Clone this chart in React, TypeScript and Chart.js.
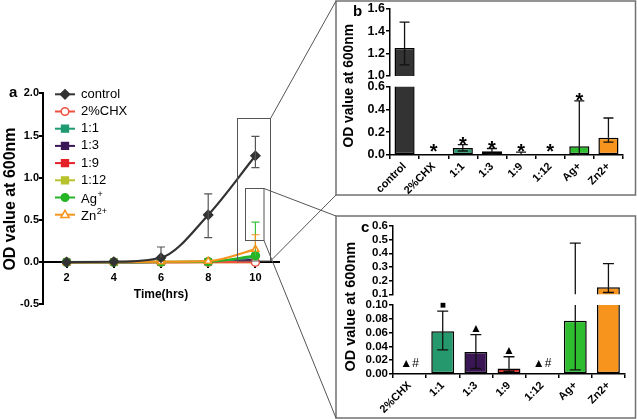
import { useEffect, useRef } from 'react';
import { Chart, registerables } from 'chart.js';

Chart.register(...registerables);

const FONT = "'Liberation Sans', Arial, 'DejaVu Sans', sans-serif";

// ---------- Panel a : OD over time ----------
const hours = [2, 4, 6, 8, 10];
const timeTicks = [2, 4, 6, 8, 10];
const odTicksA = [-0.5, 0, 0.5, 1.0, 1.5, 2.0];
const seriesNames = ['control', '2%CHX', '1:1', '1:3', '1:9', '1:12', 'Ag+', 'Zn2+'];
const controlOD = [0, 0.005, 0.053, 0.56, 1.26];
const controlHi = [0, 0.005, 0.18, 0.81, 1.49];
const controlLo = [0, 0.005, 0.053, 0.29, 1.12];
const chxOD = [0, 0, 0, 0, 0];
const r11OD = [0, 0, 0.003, 0.004, 0.062];
const r13OD = [0, 0, 0.002, 0.003, 0.032];
const r19OD = [0, 0, 0.001, 0.002, 0.008];
const r112OD = [0, 0, 0, 0, 0];
const agOD = [0, 0, 0.002, 0.006, 0.077];
const agHi = [0, 0, 0.002, 0.006, 0.475];
const znOD = [0, 0.002, 0.006, 0.012, 0.152];
const znHi = [0, 0.002, 0.006, 0.012, 0.325];

// ---------- Panel b : OD at 10 h ----------
const bCats = ['control', '2%CHX', '1:1', '1:3', '1:9', '1:12', 'Ag+', 'Zn2+'];
const bMean = [1.25, 0, 0.062, 0.032, 0.008, 0, 0.077, 0.152];
const bHi = [1.48, 0, 0.091, 0.057, 0.025, 0, 0.475, 0.325];
const bLo = [1.1, 0, 0.035, 0.008, 0.004, 0, 0.006, 0.113];
const bMarks = ['', '*', '*', '*', '*', '*', '*', ''];
const bUpperTicks = [1.0, 1.2, 1.4, 1.6];
const bLowerTicks = [0, 0.2, 0.4, 0.6];

// ---------- Panel c : treatments only ----------
const cCats = ['2%CHX', '1:1', '1:3', '1:9', '1:12', 'Ag+', 'Zn2+'];
const cMean = [0, 0.062, 0.032, 0.008, 0, 0.077, 0.152];
const cHi = [0, 0.091, 0.057, 0.025, 0, 0.475, 0.325];
const cLo = [0, 0.035, 0.008, 0.004, 0, 0.006, 0.113];
const cMarks = ['▲#', '■', '▲', '▲', '▲#', '', ''];
const cUpperTicks = [0.1, 0.2, 0.3, 0.4, 0.5, 0.6];
const cLowerTicks = [0, 0.02, 0.04, 0.06, 0.08, 0.1];

// styles
const seriesColors = ['#333333', '#f2503f', '#1f9b6f', '#3b1657', '#e42228', '#b7c22c', '#26b526', '#f7941d'];
const seriesPoints = ['rectRot', 'circle', 'rect', 'rect', 'rect', 'rect', 'circle', 'triangle'];
const seriesOpen = [false, true, false, false, false, false, false, true];
const seriesOrder = [0, 3, 4, 5, 6, 7, 2, 1];
const bColors = ['#333333', '#ffffff', '#26986d', '#3a1655', '#d8261f', '#ffffff', '#2ebd2e', '#f7941d'];
const cColors = bColors.slice(1);

function valOf(d: any): number {
  return typeof d === 'number' ? d : d.y;
}

const errorBarPlugin = {
  id: 'errBars',
  afterDatasetsDraw(chart: any) {
    const ctx = chart.ctx;
    const a = chart.chartArea;
    ctx.save();
    ctx.beginPath();
    ctx.rect(a.left - 10, a.top, a.right - a.left + 20, a.bottom - a.top);
    ctx.clip();
    chart.data.datasets.forEach((ds: any, di: number) => {
      if (!ds.errHi) return;
      const meta = chart.getDatasetMeta(di);
      const ys = chart.scales[meta.yAxisID];
      meta.data.forEach((el: any, i: number) => {
        const v = valOf(ds.data[i]);
        const x = el.x;
        const yv = ys.getPixelForValue(v);
        const cap = ds.capWidth / 2;
        ctx.strokeStyle = ds.errColor;
        ctx.lineWidth = ds.errWidth;
        [ds.errHi[i], ds.errLo ? ds.errLo[i] : v].forEach((e: number) => {
          if (e == null || Math.abs(e - v) < 1e-9) return;
          const ye = ys.getPixelForValue(e);
          ctx.beginPath();
          ctx.moveTo(x, yv);
          ctx.lineTo(x, ye);
          ctx.moveTo(x - cap, ye);
          ctx.lineTo(x + cap, ye);
          ctx.stroke();
        });
      });
    });
    ctx.restore();
  },
};

const marksPlugin = {
  id: 'sigMarks',
  afterDatasetsDraw(chart: any) {
    const ctx = chart.ctx;
    chart.data.datasets.forEach((ds: any, di: number) => {
      if (!ds.marks) return;
      const meta = chart.getDatasetMeta(di);
      const ys = chart.scales[meta.yAxisID];
      meta.data.forEach((el: any, i: number) => {
        const m = ds.marks[i];
        if (!m) return;
        const v = valOf(ds.data[i]);
        const top = Math.max(v, ds.errHi[i]);
        const lift = top <= 0 ? ds.markLiftZero : ds.markLift;
        ctx.save();
        ctx.fillStyle = '#000';
        ctx.font = m === '■' ? ds.markFontSmall : ds.markFont;
        ctx.textAlign = 'center';
        ctx.textBaseline = 'alphabetic';
        ctx.fillText(m, el.x, ys.getPixelForValue(top) - lift);
        ctx.restore();
      });
    });
  },
};

function drawMarker(ctx: any, style: string, x: number, y: number, r: number, color: string, open: boolean) {
  ctx.save();
  ctx.lineWidth = 1.5;
  ctx.strokeStyle = color;
  ctx.fillStyle = open ? '#ffffff' : color;
  ctx.beginPath();
  if (style === 'circle') ctx.arc(x, y, r, 0, Math.PI * 2);
  else if (style === 'rect') ctx.rect(x - r * 0.9, y - r * 0.9, r * 1.8, r * 1.8);
  else if (style === 'rectRot') {
    ctx.moveTo(x, y - r * 1.2);
    ctx.lineTo(x + r * 1.2, y);
    ctx.lineTo(x, y + r * 1.2);
    ctx.lineTo(x - r * 1.2, y);
    ctx.closePath();
  } else if (style === 'triangle') {
    ctx.moveTo(x, y - r * 1.15);
    ctx.lineTo(x + r * 1.1, y + r * 0.75);
    ctx.lineTo(x - r * 1.1, y + r * 0.75);
    ctx.closePath();
  }
  ctx.fill();
  ctx.stroke();
  ctx.restore();
}

const legendPlugin = {
  id: 'odLegend',
  afterDraw(chart: any) {
    const ctx = chart.ctx;
    const { left, top } = chart.chartArea;
    chart.data.datasets.forEach((ds: any, i: number) => {
      const y = top + 1 + i * 17.2;
      const x0 = left + 12;
      const x1 = left + 32;
      ctx.save();
      ctx.strokeStyle = ds.borderColor;
      ctx.lineWidth = 2;
      ctx.beginPath();
      ctx.moveTo(x0, y);
      ctx.lineTo(x1, y);
      ctx.stroke();
      drawMarker(ctx, seriesPoints[i], (x0 + x1) / 2, y, 3.8, seriesColors[i], seriesOpen[i]);
      const name: string = ds.label;
      const m = /^([A-Za-z]+)(\d*\+)$/.exec(name);
      ctx.fillStyle = '#000';
      ctx.textBaseline = 'middle';
      ctx.textAlign = 'left';
      ctx.font = `13px ${FONT}`;
      const tx = left + 38;
      if (m) {
        ctx.fillText(m[1], tx, y + 2);
        const w = ctx.measureText(m[1]).width;
        ctx.font = `9px ${FONT}`;
        ctx.fillText(m[2], tx + w + 0.5, y - 3);
      } else {
        ctx.fillText(name, tx, y);
      }
      ctx.restore();
    });
  },
};

const axisGrid = (w: number) => ({ drawOnChartArea: false, color: '#000', tickLength: 4, lineWidth: w });
const axisBorder = (w: number) => ({ color: '#000', width: w });

function lineConfig(): any {
  const all = [controlOD, chxOD, r11OD, r13OD, r19OD, r112OD, agOD, znOD];
  const his: any[] = [controlHi, null, null, null, null, null, agHi, znHi];
  const los: any[] = [controlLo, null, null, null, null, null, null, null];
  const errColors = ['#555555', '', '', '', '', '', '#3cc23c', '#f7941d'];
  return {
    type: 'line',
    data: {
      datasets: all.map((vals, i) => ({
        label: seriesNames[i],
        data: hours.map((h, j) => ({ x: h, y: vals[j] })),
        borderColor: seriesColors[i],
        backgroundColor: seriesOpen[i] ? '#ffffff' : seriesColors[i],
        pointBackgroundColor: seriesOpen[i] ? '#ffffff' : seriesColors[i],
        pointBorderColor: seriesColors[i],
        pointStyle: seriesPoints[i],
        pointRadius: seriesPoints[i] === 'rectRot' ? 4.5 : 4,
        pointBorderWidth: 1.5,
        borderWidth: 2.2,
        cubicInterpolationMode: 'monotone',
        order: seriesOrder[i],
        errHi: his[i],
        errLo: los[i],
        errColor: errColors[i],
        errWidth: 1.2,
        capWidth: 8,
      })),
    },
    options: {
      animation: false,
      responsive: false,
      events: [],
      layout: { padding: { top: 13.3, right: 11, bottom: 0, left: 0 } },
      plugins: { legend: { display: false }, tooltip: { enabled: false } },
      scales: {
        x: {
          type: 'linear',
          min: 1,
          max: 11,
          position: { y: 0 },
          afterBuildTicks: (s: any) => {
            s.ticks = timeTicks.map((v) => ({ value: v }));
          },
          afterFit: (s: any) => {
            s.height = 44;
          },
          grid: { ...axisGrid(2), tickLength: 5 },
          border: axisBorder(2),
          ticks: { color: '#000', padding: 4, autoSkip: false, font: { family: FONT, weight: 'bold', size: 11 } },
          title: {
            display: true,
            text: 'Time(hrs)',
            color: '#000',
            padding: { top: 0, bottom: 4 },
            font: { family: FONT, weight: 'bold', size: 12 },
          },
        },
        y: {
          min: -0.5,
          max: 2.0,
          afterBuildTicks: (s: any) => {
            s.ticks = odTicksA.map((v) => ({ value: v }));
          },
          afterFit: (s: any) => {
            s.width = 43;
          },
          grid: axisGrid(2),
          border: axisBorder(2),
          ticks: {
            color: '#000',
            padding: 0,
            autoSkip: false,
            font: { family: FONT, weight: 'bold', size: 11 },
            callback: (v: any) => Number(v).toFixed(1),
          },
        },
      },
    },
    plugins: [errorBarPlugin, legendPlugin],
  };
}

function barConfig(p: any): any {
  return {
    type: 'bar',
    data: {
      labels: p.cats,
      datasets: [
        {
          data: p.mean,
          backgroundColor: p.colors,
          borderColor: '#000',
          borderWidth: 1.5,
          borderSkipped: false,
          barPercentage: 0.69,
          categoryPercentage: 1,
          clip: 0,
          errHi: p.hi,
          errLo: p.lo,
          errColor: '#111',
          errWidth: 1.3,
          capWidth: p.capWidth,
          marks: p.marks,
          markFont: p.markFont,
          markFontSmall: p.markFontSmall,
          markLift: p.markLift,
          markLiftZero: p.markLiftZero,
        },
      ],
    },
    options: {
      animation: false,
      responsive: false,
      events: [],
      layout: { padding: { top: p.padTop, bottom: p.padBottom, right: p.padRight, left: 0 } },
      plugins: { legend: { display: false }, tooltip: { enabled: false } },
      scales: {
        x: {
          display: p.showX,
          grid: axisGrid(1.5),
          border: axisBorder(1.5),
          afterFit: (s: any) => {
            s.height = p.xHeight;
          },
          ticks: {
            color: '#000',
            autoSkip: false,
            minRotation: 45,
            maxRotation: 45,
            padding: 1,
            font: { family: FONT, weight: 'bold', size: 11 },
          },
        },
        y: {
          min: p.yTicks[0],
          max: p.yTicks[p.yTicks.length - 1],
          afterBuildTicks: (s: any) => {
            s.ticks = p.yTicks.map((v: number) => ({ value: v }));
          },
          afterFit: (s: any) => {
            s.width = p.yWidth;
          },
          grid: axisGrid(1.5),
          border: axisBorder(1.5),
          ticks: {
            color: '#000',
            padding: 1,
            autoSkip: false,
            font: { family: FONT, weight: 'bold', size: p.tickSize },
            callback: (v: any) => Number(v).toFixed(p.decimals),
          },
        },
      },
    },
    plugins: [errorBarPlugin, marksPlugin],
  };
}

export default function App() {
  const aRef = useRef<HTMLCanvasElement>(null);
  const bUpRef = useRef<HTMLCanvasElement>(null);
  const bLowRef = useRef<HTMLCanvasElement>(null);
  const cUpRef = useRef<HTMLCanvasElement>(null);
  const cLowRef = useRef<HTMLCanvasElement>(null);

  useEffect(() => {
    const bCommon = {
      cats: bCats, mean: bMean, hi: bHi, lo: bLo, colors: bColors,
      yWidth: 54, padRight: 13, tickSize: 12.5, capWidth: 10,
      markFont: `bold 20px ${FONT}`, markFontSmall: `bold 20px ${FONT}`, markLift: -6, markLiftZero: -3,
    };
    const cCommon = {
      cats: cCats, mean: cMean, hi: cHi, lo: cLo, colors: cColors,
      yWidth: 57, padRight: 11, tickSize: 11.5, capWidth: 11,
      markFont: `12px ${FONT}`, markFontSmall: `10px ${FONT}`, markLift: 3, markLiftZero: 7,
    };
    const charts = [
      new Chart(aRef.current as any, lineConfig()),
      new Chart(bLowRef.current as any, barConfig({
        ...bCommon, marks: bMarks, yTicks: bLowerTicks, decimals: 1,
        showX: true, xHeight: 40, padTop: 86.7, padBottom: 0,
      })),
      new Chart(bUpRef.current as any, barConfig({
        ...bCommon, marks: null, yTicks: bUpperTicks, decimals: 1,
        showX: false, xHeight: 0, padTop: 8.7, padBottom: 119,
      })),
      new Chart(cLowRef.current as any, barConfig({
        ...cCommon, marks: cMarks, yTicks: cLowerTicks, decimals: 2,
        showX: true, xHeight: 44, padTop: 89, padBottom: 0,
      })),
      new Chart(cUpRef.current as any, barConfig({
        ...cCommon, marks: null, yTicks: cUpperTicks, decimals: 1,
        showX: false, xHeight: 0, padTop: 10, padBottom: 123.7,
      })),
    ];
    return () => charts.forEach((c) => c.destroy());
  }, []);

  const abs = (left: number, top: number) => ({ position: 'absolute' as const, left, top });
  const titleStyle = { fontFamily: FONT, fontWeight: 'bold' as const, fill: '#000' };

  return (
    <div style={{ position: 'fixed', left: 0, top: 0, width: 637, height: 419, background: '#fff', overflow: 'hidden' }}>
      <canvas ref={aRef} width={290} height={231} style={abs(0, 80)} />
      <canvas ref={bLowRef} width={300} height={195} style={abs(336, 0)} />
      <canvas ref={bUpRef} width={300} height={195} style={abs(336, 0)} />
      <canvas ref={cLowRef} width={300} height={202} style={abs(336, 216)} />
      <canvas ref={cUpRef} width={300} height={202} style={abs(336, 216)} />
      <svg width={637} height={419} style={{ position: 'absolute', left: 0, top: 0 }}>
        <rect x={336} y={1} width={299.5} height={194} fill="none" stroke="#707070" strokeWidth={1.5} />
        <rect x={336} y={216} width={299.5} height={202} fill="none" stroke="#707070" strokeWidth={1.5} />
        <rect x={237.5} y={118.5} width={33} height={142.5} fill="none" stroke="#555" strokeWidth={1} />
        <rect x={245.5} y={188.5} width={18.5} height={52} fill="none" stroke="#555" strokeWidth={1} />
        <line x1={270.5} y1={118.5} x2={336} y2={1} stroke="#555" strokeWidth={1} />
        <line x1={270.5} y1={261} x2={336} y2={195} stroke="#555" strokeWidth={1} />
        <line x1={264} y1={188.5} x2={336} y2={216} stroke="#555" strokeWidth={1} />
        <line x1={264} y1={240.5} x2={336} y2={418} stroke="#555" strokeWidth={1} />
        <text x={9} y={97} fontSize={15} style={titleStyle}>a</text>
        <text x={353} y={15.5} fontSize={15} style={titleStyle}>b</text>
        <text x={361} y={232} fontSize={15} style={titleStyle}>c</text>
        <text transform="translate(15,199) rotate(-90)" textAnchor="middle" fontSize={16} style={titleStyle}>OD value at 600nm</text>
        <text transform="translate(353,85.8) rotate(-90)" textAnchor="middle" fontSize={13.8} style={titleStyle}>OD value at 600nm</text>
        <text transform="translate(355,306.7) rotate(-90)" textAnchor="middle" fontSize={14.5} style={titleStyle}>OD value at 600nm</text>
      </svg>
    </div>
  );
}
